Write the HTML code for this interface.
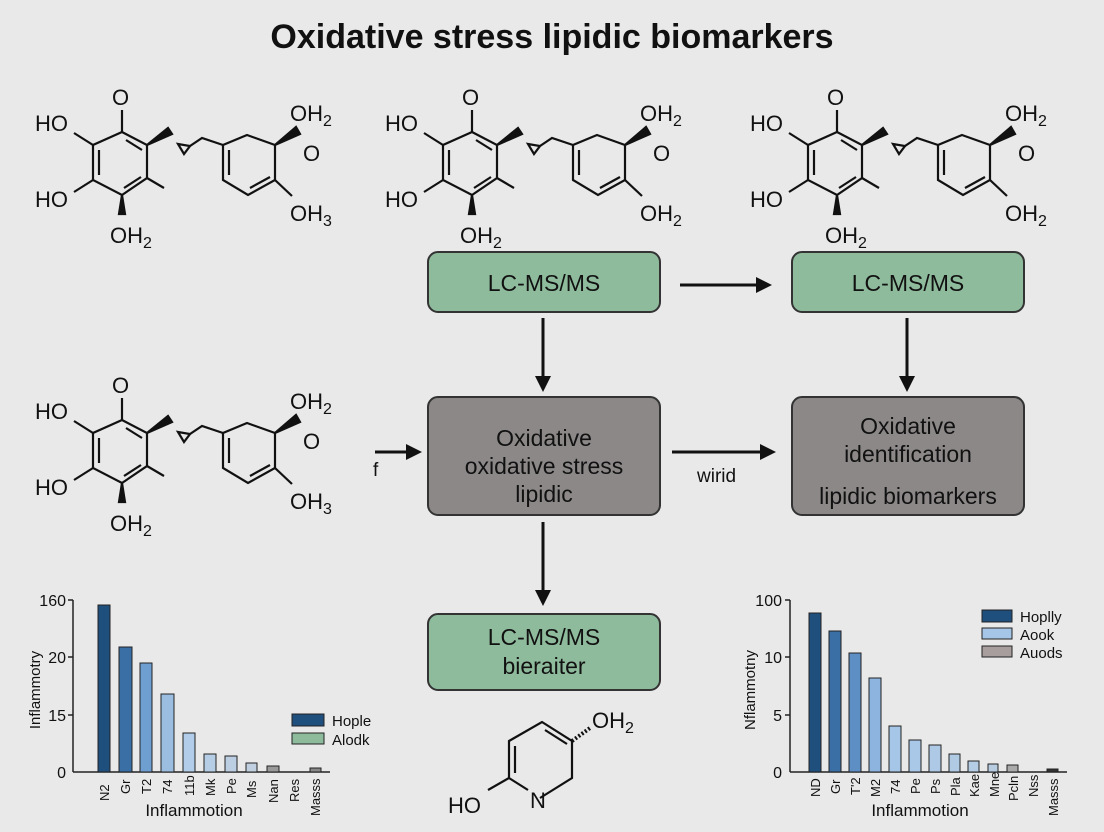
<!DOCTYPE html>
<html><head><meta charset="utf-8"><style>
body{margin:0;background:#e9e9e9;}
svg{display:block;font-family:"Liberation Sans",sans-serif;}
</style></head><body>
<svg width="1104" height="832" viewBox="0 0 1104 832" xmlns="http://www.w3.org/2000/svg">
<rect width="1104" height="832" fill="#e9e9e9"/>
<defs>
<g id="mol" stroke="#111" stroke-width="2.2" fill="none">
<polygon points="122,132 93,145 93,180 122,195 147,178 147,145"/>
<line x1="99" y1="150" x2="99" y2="175"/>
<line x1="126" y1="140" x2="142" y2="150"/>
<line x1="124" y1="188" x2="141" y2="177"/>
<line x1="122" y1="132" x2="122" y2="110"/>
<line x1="93" y1="145" x2="74" y2="133"/>
<line x1="93" y1="180" x2="74" y2="192"/>
<line x1="147" y1="178" x2="164" y2="188"/>
<polygon points="147,145 168,128 172,134" fill="#111"/>
<path d="M178,144 L190,146 L184,154 Z"/>
<polyline points="190,146 202,138 223,145"/>
<polygon points="247,135 223,145 223,180 248,195 275,180 275,145"/>
<line x1="229" y1="150" x2="229" y2="175"/>
<line x1="250" y1="188" x2="270" y2="177"/>
<polygon points="275,145 296,127 300,134" fill="#111"/>
<line x1="275" y1="180" x2="292" y2="196"/>
<polygon points="122,195 119,214 125,214" fill="#111"/>
</g>
</defs>
<text x="552" y="48" font-size="34" font-weight="bold" text-anchor="middle" fill="#111">Oxidative stress lipidic biomarkers</text>

<g font-size="22" fill="#111">
<use href="#mol"/>
<text x="35" y="131">HO</text><text x="112" y="105">O</text><text x="35" y="207">HO</text>
<text x="110" y="243">OH<tspan font-size="16" dy="5">2</tspan></text>
<text x="290" y="121">OH<tspan font-size="16" dy="5">2</tspan></text><text x="303" y="161">O</text>
<text x="290" y="221">OH<tspan font-size="16" dy="5">3</tspan></text>

<use href="#mol" x="350"/>
<text x="385" y="131">HO</text><text x="462" y="105">O</text><text x="385" y="207">HO</text>
<text x="460" y="243">OH<tspan font-size="16" dy="5">2</tspan></text>
<text x="640" y="121">OH<tspan font-size="16" dy="5">2</tspan></text><text x="653" y="161">O</text>
<text x="640" y="221">OH<tspan font-size="16" dy="5">2</tspan></text>

<use href="#mol" x="715"/>
<text x="750" y="131">HO</text><text x="827" y="105">O</text><text x="750" y="207">HO</text>
<text x="825" y="243">OH<tspan font-size="16" dy="5">2</tspan></text>
<text x="1005" y="121">OH<tspan font-size="16" dy="5">2</tspan></text><text x="1018" y="161">O</text>
<text x="1005" y="221">OH<tspan font-size="16" dy="5">2</tspan></text>

<use href="#mol" y="288"/>
<text x="35" y="419">HO</text><text x="112" y="393">O</text><text x="35" y="495">HO</text>
<text x="110" y="531">OH<tspan font-size="16" dy="5">2</tspan></text>
<text x="290" y="409">OH<tspan font-size="16" dy="5">2</tspan></text><text x="303" y="449">O</text>
<text x="290" y="509">OH<tspan font-size="16" dy="5">3</tspan></text>
</g>

<g stroke="#333" stroke-width="2">
<rect x="428" y="252" width="232" height="60" rx="10" fill="#8fbb9d"/>
<rect x="792" y="252" width="232" height="60" rx="10" fill="#8fbb9d"/>
<rect x="428" y="397" width="232" height="118" rx="10" fill="#8c8888"/>
<rect x="792" y="397" width="232" height="118" rx="10" fill="#8c8888"/>
<rect x="428" y="614" width="232" height="76" rx="10" fill="#8fbb9d"/>
</g>
<g font-size="23" fill="#111" text-anchor="middle">
<text x="544" y="291">LC-MS/MS</text>
<text x="908" y="291">LC-MS/MS</text>
<text x="544" y="446">Oxidative</text>
<text x="544" y="474">oxidative stress</text>
<text x="544" y="502">lipidic</text>
<text x="908" y="434">Oxidative</text>
<text x="908" y="462">identification</text>
<text x="908" y="504">lipidic biomarkers</text>
<text x="544" y="645">LC-MS/MS</text>
<text x="544" y="674">bieraiter</text>
</g>
<g stroke="#111" stroke-width="3" fill="#111">
<line x1="680" y1="285" x2="758" y2="285"/><polygon points="772,285 756,277 756,293" stroke="none"/>
<line x1="543" y1="318" x2="543" y2="378"/><polygon points="543,392 535,376 551,376" stroke="none"/>
<line x1="907" y1="318" x2="907" y2="378"/><polygon points="907,392 899,376 915,376" stroke="none"/>
<line x1="375" y1="452" x2="408" y2="452"/><polygon points="422,452 406,444 406,460" stroke="none"/>
<line x1="672" y1="452" x2="762" y2="452"/><polygon points="776,452 760,444 760,460" stroke="none"/>
<line x1="543" y1="522" x2="543" y2="592"/><polygon points="543,606 535,590 551,590" stroke="none"/>
</g>
<text x="373" y="476" font-size="19" fill="#111">f</text>
<text x="697" y="482" font-size="19" fill="#111">wirid</text>

<g stroke="#111" stroke-width="2.2" fill="none">
<polyline points="540,798 572,778 572,741 542,722 509,741 509,778 528,790"/>
<line x1="515" y1="746" x2="515" y2="773"/>
<line x1="545" y1="730" x2="567" y2="744"/>
<line x1="509" y1="778" x2="488" y2="790"/>
<line x1="572" y1="741" x2="590" y2="728" stroke-dasharray="2,2" stroke-width="4"/>
</g>
<g font-size="22" fill="#111">
<text x="530" y="808">N</text>
<text x="448" y="813">HO</text>
<text x="592" y="728">OH<tspan font-size="16" dy="5">2</tspan></text>
</g>

<g stroke="#222" stroke-width="1.5">
<line x1="73" y1="600" x2="73" y2="772"/><line x1="73" y1="772" x2="330" y2="772"/>
<line x1="68" y1="600" x2="73" y2="600"/><line x1="68" y1="657" x2="73" y2="657"/><line x1="68" y1="715" x2="73" y2="715"/>
</g>
<g font-size="16" fill="#111" text-anchor="end">
<text x="66" y="606">160</text><text x="66" y="663">20</text><text x="66" y="721">15</text><text x="66" y="778">0</text>
</g>
<g stroke="#222" stroke-width="1">
<rect x="98" y="605" width="12" height="167" fill="#1f4f7d"/>
<rect x="119" y="647" width="13" height="125" fill="#3a6fa5"/>
<rect x="140" y="663" width="12" height="109" fill="#6f9fd0"/>
<rect x="161" y="694" width="13" height="78" fill="#9bbde0"/>
<rect x="183" y="733" width="12" height="39" fill="#b2cdea"/>
<rect x="204" y="754" width="12" height="18" fill="#b6cde6"/>
<rect x="225" y="756" width="12" height="16" fill="#bccfe2"/>
<rect x="246" y="763" width="11" height="9" fill="#c0d0e0"/>
<rect x="267" y="766" width="12" height="6" fill="#999"/>
<rect x="310" y="768" width="11" height="4" fill="#888"/>
<rect x="292" y="714" width="32" height="12" fill="#1f4f7d"/>
<rect x="292" y="733" width="32" height="11" fill="#8fbb9d"/>
</g>
<g font-size="15" fill="#111"><text x="332" y="726">Hople</text><text x="332" y="745">Alodk</text></g>
<g font-size="13" fill="#111">
<text transform="translate(109,801) rotate(-90)">N2</text>
<text transform="translate(130,794) rotate(-90)">Gr</text>
<text transform="translate(151,794) rotate(-90)">T2</text>
<text transform="translate(172,794) rotate(-90)">74</text>
<text transform="translate(194,796) rotate(-90)">11b</text>
<text transform="translate(215,796) rotate(-90)">Mk</text>
<text transform="translate(236,794) rotate(-90)">Pe</text>
<text transform="translate(256,798) rotate(-90)">Ms</text>
<text transform="translate(278,803) rotate(-90)">Nan</text>
<text transform="translate(299,802) rotate(-90)">Res</text>
<text transform="translate(320,816) rotate(-90)">Masss</text>
</g>
<text x="194" y="816" font-size="17" fill="#111" text-anchor="middle">Inflammotion</text>
<text transform="translate(40,690) rotate(-90)" font-size="15" fill="#111" text-anchor="middle">Inflammotry</text>

<g stroke="#222" stroke-width="1.5">
<line x1="790" y1="600" x2="790" y2="772"/><line x1="790" y1="772" x2="1067" y2="772"/>
<line x1="785" y1="600" x2="790" y2="600"/><line x1="785" y1="657" x2="790" y2="657"/><line x1="785" y1="715" x2="790" y2="715"/>
</g>
<g font-size="16" fill="#111" text-anchor="end">
<text x="782" y="606">100</text><text x="782" y="663">10</text><text x="782" y="721">5</text><text x="782" y="778">0</text>
</g>
<g stroke="#222" stroke-width="1">
<rect x="809" y="613" width="12" height="159" fill="#1f4f7d"/>
<rect x="829" y="631" width="12" height="141" fill="#3a6fa5"/>
<rect x="849" y="653" width="12" height="119" fill="#5d8fc4"/>
<rect x="869" y="678" width="12" height="94" fill="#8db4df"/>
<rect x="889" y="726" width="12" height="46" fill="#a6c6e8"/>
<rect x="909" y="740" width="12" height="32" fill="#a9c7e6"/>
<rect x="929" y="745" width="12" height="27" fill="#adc9e6"/>
<rect x="949" y="754" width="11" height="18" fill="#b0cae4"/>
<rect x="968" y="761" width="11" height="11" fill="#b4cce4"/>
<rect x="988" y="764" width="10" height="8" fill="#b8cde2"/>
<rect x="1007" y="765" width="11" height="7" fill="#aaa"/>
<rect x="1047" y="769" width="11" height="3" fill="#333"/>
<rect x="982" y="610" width="30" height="12" fill="#1f4f7d"/>
<rect x="982" y="628" width="30" height="11" fill="#a6c6e8"/>
<rect x="982" y="646" width="30" height="11" fill="#a89e9e"/>
</g>
<g font-size="15" fill="#111"><text x="1020" y="622">Hoplly</text><text x="1020" y="640">Aook</text><text x="1020" y="658">Auods</text></g>
<g font-size="13" fill="#111">
<text transform="translate(820,797) rotate(-90)">ND</text>
<text transform="translate(840,794) rotate(-90)">Gr</text>
<text transform="translate(860,795) rotate(-90)">T'2</text>
<text transform="translate(880,797) rotate(-90)">M2</text>
<text transform="translate(900,794) rotate(-90)">74</text>
<text transform="translate(920,794) rotate(-90)">Pe</text>
<text transform="translate(940,794) rotate(-90)">Ps</text>
<text transform="translate(960,796) rotate(-90)">Pla</text>
<text transform="translate(979,797) rotate(-90)">Kae</text>
<text transform="translate(999,797) rotate(-90)">Mne</text>
<text transform="translate(1018,801) rotate(-90)">Pcln</text>
<text transform="translate(1038,797) rotate(-90)">Nss</text>
<text transform="translate(1058,816) rotate(-90)">Masss</text>
</g>
<text x="920" y="816" font-size="17" fill="#111" text-anchor="middle">Inflammotion</text>
<text transform="translate(755,690) rotate(-90)" font-size="15" fill="#111" text-anchor="middle">Nflammotny</text>
</svg>
</body></html>
